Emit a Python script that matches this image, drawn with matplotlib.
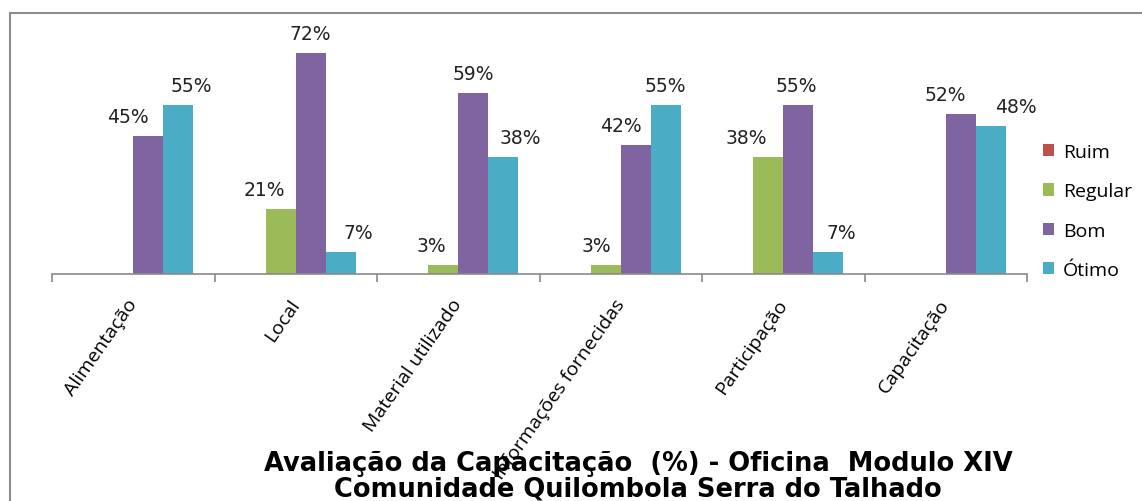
import numpy as np
import matplotlib.pyplot as plt
from matplotlib.patches import Rectangle

categories = ['Alimentação', 'Local', 'Material utilizado', 'Informações fornecidas',
              'Participação', 'Capacitação']
series = ['Ruim', 'Regular', 'Bom', 'Ótimo']
ruim = [0, 0, 0, 0, 0, 0]
regular = [0, 21, 3, 3, 38, 0]
bom = [45, 72, 59, 42, 55, 52]
otimo = [55, 7, 38, 55, 7, 48]

colors = ['#C0504D', '#9BBB59', '#8064A2', '#4BACC6']

# label nudges (pixels) - labels were moved by hand in the original to avoid overlaps
nudge = {
    'Ruim':    [0, 0, 0, 0, 0, 0],
    'Regular': [0, -16, -12, -9, -22, 0],
    'Bom':     [-20, 0, 0, -15, -2, -15],
    'Ótimo':   [13, 18, 17, 0, 13, 25],
}

fig = plt.figure(figsize=(11.42, 5.02), dpi=100)
W, H = 1142, 502
ax = fig.add_axes([52/W, 1-275/H, (1027-52)/W, (275-29)/H])

x = np.arange(len(categories))
w = 0.1846
values = [ruim, regular, bom, otimo]
for i, (name, vals) in enumerate(zip(series, values)):
    pos = x + (i - 1.5)*w
    bars = ax.bar(pos, vals, width=w, color=colors[i], label=name, linewidth=0)
    for j, (p, v) in enumerate(zip(pos, vals)):
        if v > 0:
            ax.annotate(f'{v}%', (p, v), xytext=(nudge[name][j], 10),
                        textcoords='offset pixels', ha='center', va='bottom',
                        fontsize=13.5, family='DejaVu Sans', color='#222222')

ax.set_xlim(-0.5, len(categories) - 0.5)
ax.set_ylim(0, 80)
ax.set_yticks([])
for s in ['top', 'right', 'left']:
    ax.spines[s].set_visible(False)
ax.spines['bottom'].set_color('#8a8a8a')
ax.spines['bottom'].set_linewidth(1.2)

ax.set_xticks(np.arange(len(categories) + 1) - 0.5)
ax.set_xticklabels([])
ax.tick_params(axis='x', which='major', length=6, color='#8a8a8a', width=1.2)
ax.set_xticks(x, minor=True)
ax.set_xticklabels(categories, minor=True, rotation=55, ha='right', va='center',
                   rotation_mode='anchor', fontsize=14, family='Open Sans')
ax.tick_params(axis='x', which='minor', length=0, pad=19)

leg = fig.legend(loc='center left', bbox_to_anchor=(1025/W, 1-212/H), frameon=False,
                 prop={'family': 'Open Sans', 'size': 14}, handlelength=0.6,
                 handleheight=0.6, handletextpad=0.45, labelspacing=1.1)

fig.text(638/W, 1-464/H, 'Avaliação da Capacitação  (%) - Oficina  Modulo XIV',
         ha='center', va='center', fontsize=18.5, fontweight='bold', family='DejaVu Sans')
fig.text(638/W, 1-490/H, 'Comunidade Quilombola Serra do Talhado',
         ha='center', va='center', fontsize=18.5, fontweight='bold', family='DejaVu Sans')

fig.patches.append(Rectangle((10/W, -0.1), 1.2, 1.1 - 14/H, transform=fig.transFigure,
                             fill=False, edgecolor='#8c8c8c', linewidth=1.5))

fig.savefig('out.png', dpi=100)
